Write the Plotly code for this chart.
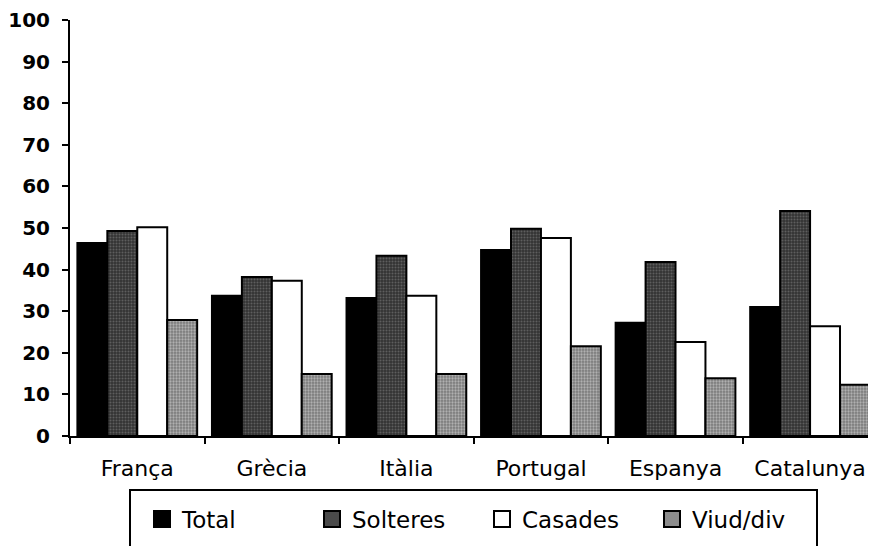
import plotly.graph_objects as go

categories = ["França", "Grècia", "Itàlia", "Portugal", "Espanya", "Catalunya"]
total = [46.4, 33.7, 33.2, 44.7, 27.2, 31.0]
solteres = [49.3, 38.2, 43.3, 49.8, 41.8, 54.1]
casades = [50.2, 37.3, 33.7, 47.6, 22.6, 26.4]
viud_div = [27.9, 14.9, 14.9, 21.6, 13.9, 12.3]
y_ticks = [0, 10, 20, 30, 40, 50, 60, 70, 80, 90, 100]
series_names = ["Total", "Solteres", "Casades", "Viud/div"]

FONT = "DejaVu Sans, Liberation Sans, Arial, sans-serif"

fills = ["black", "#333333", "white", "#7a7a7a"]
legend_fills = ["black", "#4a4a4a", "white", "#8c8c8c"]
patterns = [None,
            dict(shape=".", fgcolor="#8a8a8a", size=3, solidity=0.35),
            None,
            dict(shape=".", fgcolor="#e6e6e6", size=3, solidity=0.45)]

fig = go.Figure()
for name, vals, fill, pat in zip(series_names, [total, solteres, casades, viud_div], fills, patterns):
    marker = dict(color=fill, line=dict(color="black", width=2))
    if pat:
        marker["pattern"] = pat
    fig.add_trace(go.Bar(name=name, x=categories, y=vals, marker=marker,
                         legendgroup=name, showlegend=False))
# legend entries (big square swatches like the original)
for name, fill in zip(series_names, legend_fills):
    fig.add_trace(go.Scatter(name=name, x=[None], y=[None], mode="markers",
                             legendgroup=name, showlegend=True,
                             marker=dict(symbol="square", size=22, color=fill,
                                         line=dict(color="black", width=2))))

# page body has an 8px margin: plot area spans screen x 70..876, y 20..436
fig.update_layout(
    width=868, height=538,
    margin=dict(l=62, r=0, t=12, b=110, autoexpand=False),
    paper_bgcolor="white", plot_bgcolor="white",
    barmode="group", bargap=0.11, bargroupgap=0,
    font=dict(family=FONT, color="black"),
    showlegend=True,
    legend=dict(orientation="h", x=(142 - 70) / 806, y=-0.148, xanchor="left", yanchor="top",
                font=dict(size=23, family=FONT), borderwidth=0, bgcolor="rgba(0,0,0,0)",
                traceorder="normal", itemclick=False, itemdoubleclick=False,
                entrywidth=125, entrywidthmode="pixels"),
    xaxis=dict(range=[-0.5, 5.49], showline=True, linecolor="black", linewidth=2,
               ticks="outside", ticklen=6, tickwidth=2, tickcolor="black",
               tickson="boundaries", showgrid=False, zeroline=False,
               tickfont=dict(size=22, family=FONT), ticklabelstandoff=12),
    yaxis=dict(range=[0, 100], tickvals=y_ticks, showline=True, linecolor="black", linewidth=2,
               ticks="outside", ticklen=6, tickwidth=2, tickcolor="black",
               showgrid=False, zeroline=False,
               tickfont=dict(size=20, family="DejaVu Sans, Liberation Sans, Arial", weight="bold"),
               ticklabelstandoff=8),
    shapes=[dict(type="rect", xref="paper", yref="paper",
                 x0=(130 - 70) / 806, x1=(817 - 70) / 806,
                 y0=(436 - 490) / 416, y1=(436 - 560) / 416,
                 line=dict(color="black", width=2), fillcolor="rgba(0,0,0,0)")],
)

fig.write_html("out.html")
